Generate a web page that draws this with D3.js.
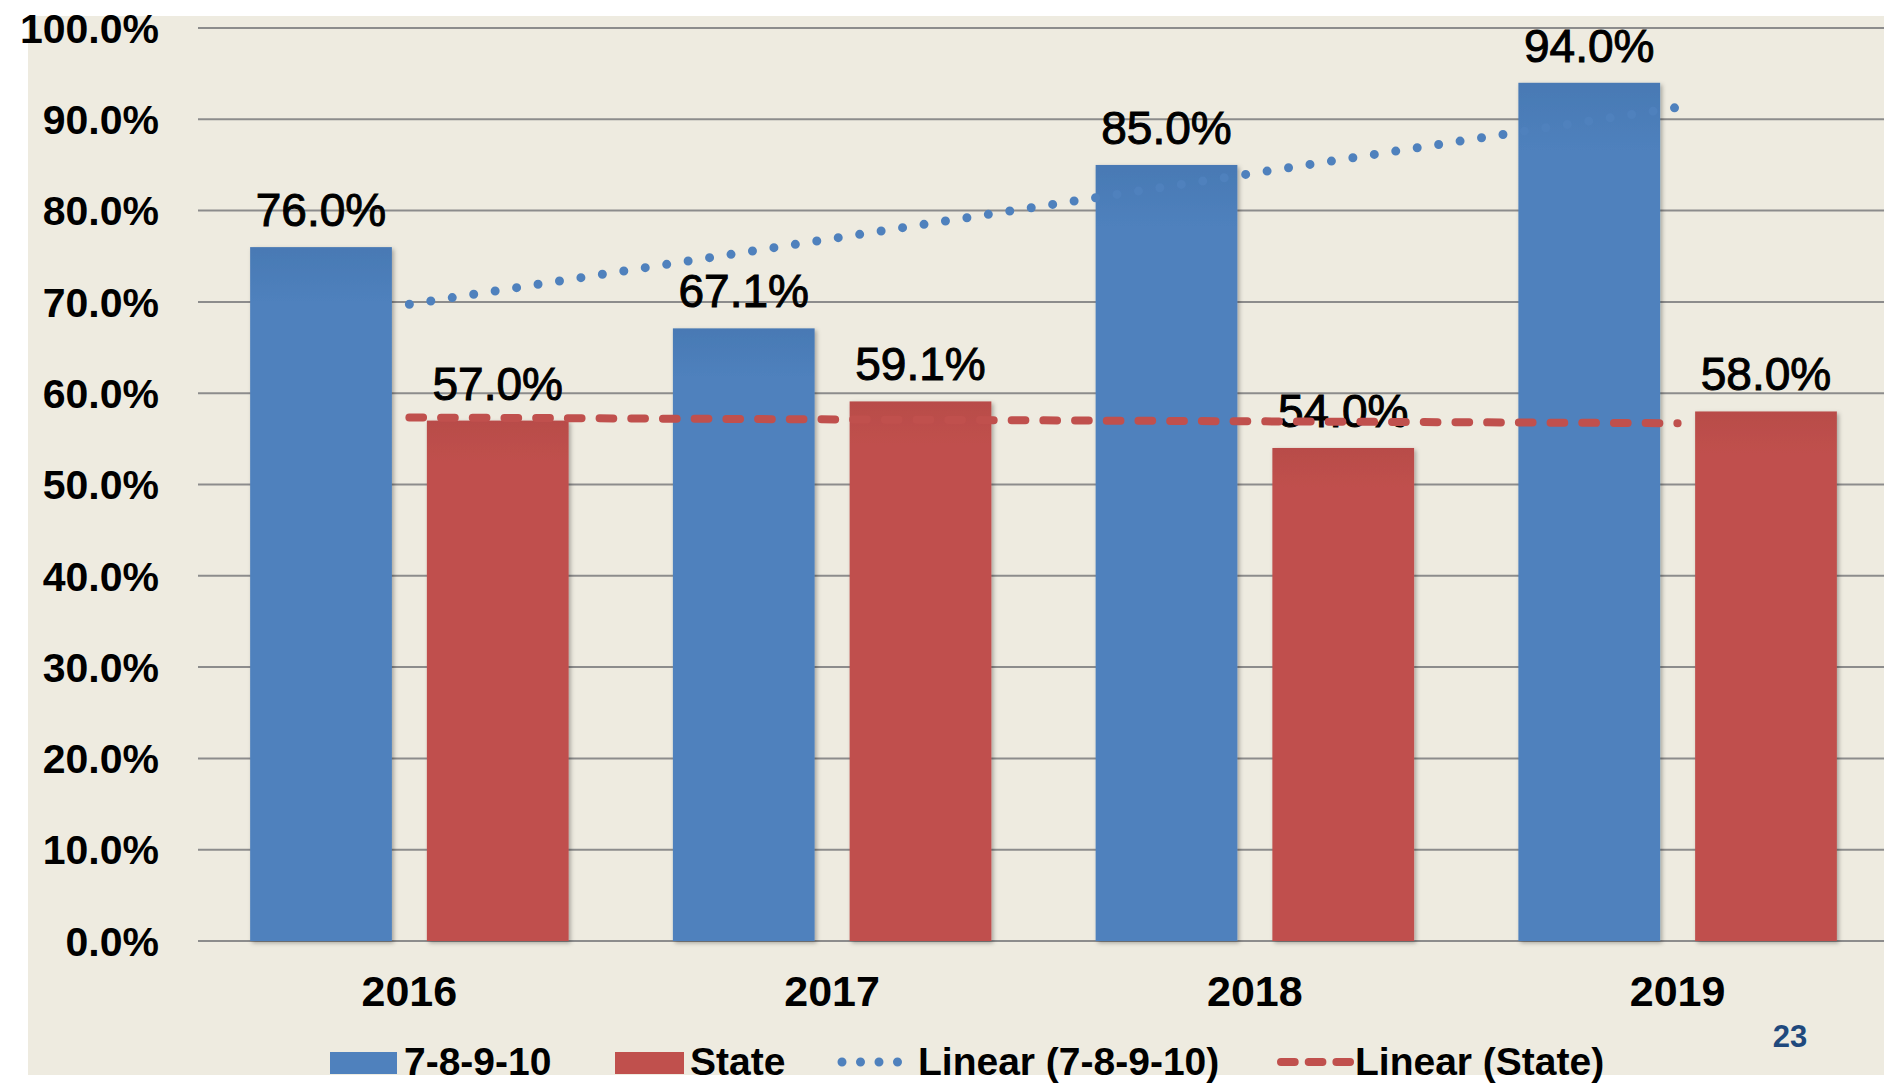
<!DOCTYPE html>
<html>
<head>
<meta charset="utf-8">
<script src="https://cdn.jsdelivr.net/npm/d3@7"></script>
<style>
  body { margin: 0; background: #fff; }
  svg text { font-family: "Liberation Sans", Arial, sans-serif; }
</style>
</head>
<body>
<div class="chart"></div>
<script>
// data
var years = ["2016", "2017", "2018", "2019"];
var seriesNames = ["7-8-9-10", "State"];
var district = [76.0, 67.1, 85.0, 94.0];
var state = [57.0, 59.1, 54.0, 58.0];
var yTicks = [0, 10, 20, 30, 40, 50, 60, 70, 80, 90, 100];

var width = 1884, height = 1085;
var blue = "#4f81bd", red = "#c0504d";

var svg = d3.select("div.chart")
    .append("svg")
    .attr("width", width)
    .attr("height", height);

// shadow + gradients for bars
var defs = svg.append("defs");
var f = defs.append("filter").attr("id", "shadow")
    .attr("x", "-10%").attr("y", "-10%").attr("width", "130%").attr("height", "130%");
f.append("feDropShadow").attr("dx", 2).attr("dy", 2).attr("stdDeviation", 2)
    .attr("flood-color", "#000").attr("flood-opacity", 0.3);

function grad(id, top, bottom) {
    var g = defs.append("linearGradient").attr("id", id)
        .attr("x1", 0).attr("y1", 0).attr("x2", 0).attr("y2", 1);
    g.append("stop").attr("offset", "0%").attr("stop-color", top);
    g.append("stop").attr("offset", "8%").attr("stop-color", bottom);
    g.append("stop").attr("offset", "100%").attr("stop-color", bottom);
}
grad("gBlue", "#4879b4", blue);
grad("gRed", "#b84c49", red);

// background panel
svg.append("rect")
    .attr("x", 28).attr("y", 16)
    .attr("width", width - 28).attr("height", 1075 - 16)
    .attr("fill", "#eeebe0");

// scales
var x = d3.scaleBand().domain(years).range([198, 1889]);
var x1 = d3.scaleBand().domain(seriesNames).range([0, x.bandwidth()])
    .paddingInner(0.198).paddingOuter(0.295);
var y = d3.scaleLinear().domain([0, 100]).range([941, 28]);

// gridlines
svg.append("g")
    .selectAll("line")
    .data(yTicks)
    .enter()
    .append("line")
    .attr("x1", 198).attr("x2", width)
    .attr("y1", function (d) { return y(d); })
    .attr("y2", function (d) { return y(d); })
    .attr("stroke", "#8c8c8c")
    .attr("stroke-width", 2);

// y axis labels
svg.append("g")
    .selectAll("text")
    .data(yTicks)
    .enter()
    .append("text")
    .attr("x", 159)
    .attr("y", function (d) { return y(d); })
    .attr("dy", "0.36em")
    .attr("text-anchor", "end")
    .attr("font-size", 41)
    .attr("font-weight", "bold")
    .attr("fill", "#000")
    .text(function (d) { return d.toFixed(1) + "%"; });

// bars
var rows = years.map(function (yr, i) {
    return [{ year: yr, s: seriesNames[0], v: district[i] },
            { year: yr, s: seriesNames[1], v: state[i] }];
});
var flat = [].concat.apply([], rows);

svg.append("g")
    .selectAll("rect")
    .data(flat)
    .enter()
    .append("rect")
    .attr("x", function (d) { return x(d.year) + x1(d.s); })
    .attr("width", x1.bandwidth())
    .attr("y", function (d) { return y(d.v); })
    .attr("height", function (d) { return y(0) - y(d.v); })
    .attr("fill", function (d) { return d.s == seriesNames[0] ? "url(#gBlue)" : "url(#gRed)"; })
    .attr("filter", "url(#shadow)");

// data labels
svg.append("g")
    .selectAll("text")
    .data(flat)
    .enter()
    .append("text")
    .attr("x", function (d) { return x(d.year) + x1(d.s) + x1.bandwidth() / 2; })
    .attr("y", function (d) { return y(d.v) - 21; })
    .attr("text-anchor", "middle")
    .attr("font-size", 46)
    .attr("fill", "#000")
    .attr("stroke", "#000")
    .attr("stroke-width", 1)
    .text(function (d) { return d.v.toFixed(1) + "%"; });

// linear trendlines (least squares over category index)
function fit(vals) {
    var n = vals.length, mx = (n + 1) / 2, my = d3.mean(vals);
    var num = 0, den = 0;
    vals.forEach(function (v, i) {
        num += (i + 1 - mx) * (v - my);
        den += (i + 1 - mx) * (i + 1 - mx);
    });
    var b = num / den;
    return [my + b * (1 - mx), my + b * (n - mx)];
}
function trend(vals, color, dash, w) {
    var ends = fit(vals);
    var pts = [[years[0], ends[0]], [years[years.length - 1], ends[1]]];
    svg.append("path")
        .attr("d", d3.line()
            .x(function (d) { return x(d[0]) + x.bandwidth() / 2; })
            .y(function (d) { return y(d[1]); })(pts))
        .attr("fill", "none")
        .attr("stroke", color)
        .attr("stroke-width", w)
        .attr("stroke-linecap", "round")
        .attr("stroke-dasharray", dash);
}
trend(district, blue, "0 21.7", 9);
trend(state, red, "13.7 18", 8);

// x axis labels
svg.append("g")
    .selectAll("text")
    .data(years)
    .enter()
    .append("text")
    .attr("x", function (d) { return x(d) + x.bandwidth() / 2; })
    .attr("y", 1006)
    .attr("text-anchor", "middle")
    .attr("font-size", 43)
    .attr("font-weight", "bold")
    .attr("fill", "#000")
    .text(function (d) { return d; });

// legend
var ly = 1075;
var legend = svg.append("g").attr("font-size", 39).attr("font-weight", "bold");
legend.append("rect").attr("x", 330).attr("y", 1052).attr("width", 67).attr("height", 22).attr("fill", blue);
legend.append("text").attr("x", 404).attr("y", ly).text("7-8-9-10");
legend.append("rect").attr("x", 615).attr("y", 1052).attr("width", 69).attr("height", 22).attr("fill", red);
legend.append("text").attr("x", 690).attr("y", ly).text("State");
legend.append("line").attr("x1", 842).attr("x2", 912).attr("y1", 1062).attr("y2", 1062)
    .attr("stroke", blue).attr("stroke-width", 9).attr("stroke-linecap", "round")
    .attr("stroke-dasharray", "0 18.5");
legend.append("text").attr("x", 918).attr("y", ly).text("Linear (7-8-9-10)");
legend.append("line").attr("x1", 1281).attr("x2", 1350).attr("y1", 1062).attr("y2", 1062)
    .attr("stroke", red).attr("stroke-width", 8).attr("stroke-linecap", "round")
    .attr("stroke-dasharray", "13.7 14");
legend.append("text").attr("x", 1355).attr("y", ly).text("Linear (State)");

// page number
svg.append("text")
    .attr("x", 1790).attr("y", 1047)
    .attr("text-anchor", "middle")
    .attr("font-size", 31)
    .attr("font-weight", "bold")
    .attr("fill", "#1f497d")
    .text("23");
</script>
</body>
</html>
